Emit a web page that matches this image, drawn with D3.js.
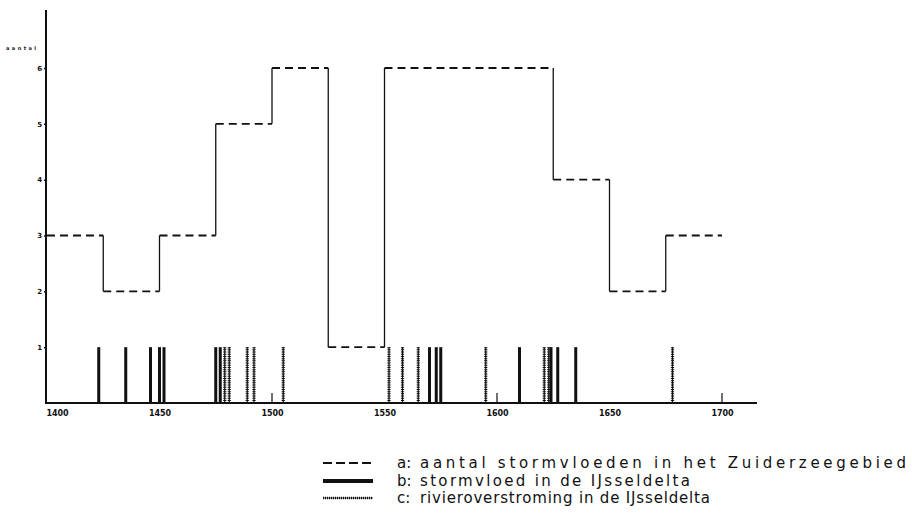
<!DOCTYPE html>
<html>
<head>
<meta charset="utf-8">
<script src="https://cdn.jsdelivr.net/npm/d3@7"></script>
<style>
  html, body { margin: 0; padding: 0; background: #fff; }
  svg { display: block; }
</style>
</head>
<body>
<svg id="chart" width="912" height="521"></svg>
<script>
// ---------- data ----------
const stepStarts = [1400, 1425, 1450, 1475, 1500, 1525, 1550, 1625, 1650, 1675];
const stepEnds   = [1425, 1450, 1475, 1500, 1525, 1550, 1625, 1650, 1675, 1700];
const stepValues = [3, 2, 3, 5, 6, 1, 6, 4, 2, 3];

const stormYears = [1423, 1435, 1446, 1450, 1452, 1475, 1477, 1570, 1573, 1575, 1610, 1624, 1627, 1635];
const riverYears = [1479, 1481, 1489, 1492, 1505, 1552, 1558, 1565, 1595, 1621, 1623, 1678];

const xTickLabels = [1400, 1450, 1500, 1550, 1600, 1650, 1700];
const xMinorTicks = [1500, 1600, 1700];
const yTickLabels = [1, 2, 3, 4, 5, 6];

const legendKeys  = ["a:", "b:", "c:"];
const legendTexts = [
  "aantal stormvloeden in het Zuiderzeegebied",
  "stormvloed in de IJsseldelta",
  "rivieroverstroming in de IJsseldelta"
];

// ---------- layout ----------
const svg = d3.select("#chart");
const x = d3.scaleLinear().domain([1400, 1700]).range([47, 722]);
const y = d3.scaleLinear().domain([0, 6]).range([403, 68]);
const xAxisEnd = 757, yAxisTop = 10;
const ink = "#111";

// ---------- step line (dashed horizontals, solid risers) ----------
const g = svg.append("g");
g.selectAll("line.h").data(stepValues).enter().append("line")
  .attr("x1", (d, i) => x(stepStarts[i]))
  .attr("x2", (d, i) => x(stepEnds[i]))
  .attr("y1", d => y(d)).attr("y2", d => y(d))
  .attr("stroke", ink).attr("stroke-width", 1.8)
  .attr("stroke-dasharray", "8,5");
g.selectAll("line.v").data(stepValues.slice(1)).enter().append("line")
  .attr("x1", (d, i) => x(stepStarts[i + 1]))
  .attr("x2", (d, i) => x(stepStarts[i + 1]))
  .attr("y1", (d, i) => y(stepValues[i]))
  .attr("y2", d => y(d))
  .attr("stroke", ink).attr("stroke-width", 1.3);

// ---------- bars ----------
g.selectAll("line.storm").data(stormYears).enter().append("line")
  .attr("x1", d => x(d)).attr("x2", d => x(d))
  .attr("y1", y(1)).attr("y2", y(0))
  .attr("stroke", ink).attr("stroke-width", 3);

const river = g.selectAll("g.river").data(riverYears).enter().append("g");
river.append("line")
  .attr("x1", d => x(d)).attr("x2", d => x(d))
  .attr("y1", y(1)).attr("y2", y(0))
  .attr("stroke", ink).attr("stroke-width", 1.2);
river.append("line")
  .attr("x1", d => x(d)).attr("x2", d => x(d))
  .attr("y1", y(1)).attr("y2", y(0))
  .attr("stroke", ink).attr("stroke-width", 3.2)
  .attr("stroke-dasharray", "1,1.2");

// ---------- axes ----------
svg.append("line")
  .attr("x1", x(1400) - 1).attr("x2", xAxisEnd)
  .attr("y1", y(0)).attr("y2", y(0))
  .attr("stroke", ink).attr("stroke-width", 2);
svg.append("line")
  .attr("x1", x(1400) - 1).attr("x2", x(1400) - 1)
  .attr("y1", y(0) + 1).attr("y2", yAxisTop)
  .attr("stroke", ink).attr("stroke-width", 2);

// minor upward ticks
svg.selectAll("line.minor").data(xMinorTicks).enter().append("line")
  .attr("x1", d => x(d)).attr("x2", d => x(d))
  .attr("y1", y(0)).attr("y2", y(0) - 10)
  .attr("stroke", ink).attr("stroke-width", 1.2);

const xAxis = svg.append("g")
  .attr("transform", `translate(0,${y(0)})`)
  .call(d3.axisBottom(x).tickValues(xTickLabels).tickSize(0).tickPadding(7).tickFormat(d3.format("d")));
xAxis.select(".domain").remove();
xAxis.selectAll("text")
  .attr("font-family", "DejaVu Sans, sans-serif")
  .attr("font-size", 8).attr("font-weight", "bold").attr("fill", ink)
  .attr("dx", d => d === 1400 ? 10 : 0);

const yAxis = svg.append("g")
  .attr("transform", `translate(${x(1400) - 1},0)`)
  .call(d3.axisLeft(y).tickValues(yTickLabels).tickSize(2).tickPadding(2).tickFormat(d3.format("d")));
yAxis.select(".domain").remove();
yAxis.selectAll("line").attr("stroke", ink).attr("stroke-width", 1.5);
yAxis.selectAll("text")
  .attr("font-family", "DejaVu Sans, sans-serif")
  .attr("font-size", 7).attr("font-weight", "bold").attr("fill", ink);

svg.append("text")
  .attr("x", 6).attr("y", 50)
  .attr("font-family", "DejaVu Sans, sans-serif")
  .attr("font-size", 5).attr("font-weight", "bold")
  .attr("textLength", 30).attr("lengthAdjust", "spacing")
  .attr("fill", ink).text("aantal");

// ---------- legend ----------
const legY = [463, 481, 498];
const legTextEnd = [906, 690, 710];
const lx1 = 323, lx2 = 373, keyX = 397, textX = 420;
const leg = svg.append("g");
leg.append("line").attr("x1", lx1).attr("x2", lx2).attr("y1", legY[0]).attr("y2", legY[0])
  .attr("stroke", ink).attr("stroke-width", 1.8).attr("stroke-dasharray", "9,4");
leg.append("line").attr("x1", lx1).attr("x2", lx2).attr("y1", legY[1]).attr("y2", legY[1])
  .attr("stroke", ink).attr("stroke-width", 4);
leg.append("line").attr("x1", lx1).attr("x2", lx2).attr("y1", legY[2]).attr("y2", legY[2])
  .attr("stroke", ink).attr("stroke-width", 0.8);
leg.append("line").attr("x1", lx1).attr("x2", lx2).attr("y1", legY[2]).attr("y2", legY[2])
  .attr("stroke", ink).attr("stroke-width", 2.4).attr("stroke-dasharray", "1,1");

leg.selectAll("text.key").data(legendKeys).enter().append("text")
  .attr("x", keyX).attr("y", (d, i) => legY[i] + 5)
  .attr("font-family", "DejaVu Sans, sans-serif").attr("font-size", 15).attr("fill", ink)
  .text(d => d);
leg.selectAll("text.lab").data(legendTexts).enter().append("text")
  .attr("x", textX).attr("y", (d, i) => legY[i] + 5)
  .attr("font-family", "DejaVu Sans, sans-serif").attr("font-size", 15).attr("fill", ink)
  .attr("textLength", (d, i) => legTextEnd[i] - textX).attr("lengthAdjust", "spacing")
  .text(d => d);
</script>
</body>
</html>
